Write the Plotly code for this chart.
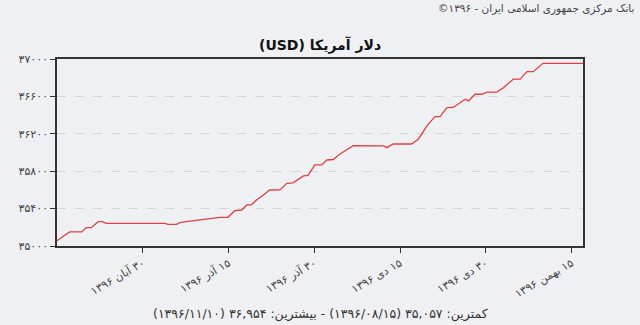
import plotly.graph_objects as go

# day offsets from 15 Aban 1396 and USD rate
days = [0, 2.2, 4.3, 5.1, 6, 7.2, 8, 8.6, 18.9, 19.4, 20.9, 21.5, 22.6, 23.8, 25.6,
        27.3, 28.5, 29.9, 31.1, 32.3, 33.2, 34, 34.9, 36.1, 37.2, 39, 40.2, 41.3,
        43.1, 43.9, 45.1, 46.3, 47.2, 48.3, 49.5, 51.8, 53.6, 57.1, 57.7, 58.8, 62,
        63.2, 64.7, 66.1, 67, 68.2, 69.3, 71.4, 72, 73.1, 74.3, 75.2, 76.9, 78.1,
        79.8, 81, 82.2, 83.3, 85, 92]
rates = [35057, 35150, 35150, 35196, 35196, 35260, 35260, 35242, 35242, 35232, 35232,
         35250, 35260, 35270, 35286, 35296, 35307, 35307, 35378, 35385, 35439, 35439,
         35492, 35546, 35599, 35600, 35671, 35675, 35749, 35755, 35867, 35867, 35920,
         35925, 35984, 36074, 36074, 36070, 36052, 36091, 36091, 36142, 36284, 36384,
         36384, 36480, 36482, 36570, 36552, 36623, 36623, 36645, 36645, 36694, 36784,
         36784, 36865, 36865, 36954, 36954]

x_tick_vals = [15, 30, 45, 60, 75, 90]
x_tick_text = ["۳۰ آبان ۱۳۹۶", "۱۵ آذر ۱۳۹۶", "۳۰ آذر ۱۳۹۶",
               "۱۵ دی ۱۳۹۶", "۳۰ دی ۱۳۹۶", "۱۵ بهمن ۱۳۹۶"]
y_tick_vals = [35000, 35400, 35800, 36200, 36600, 37000]
y_tick_text = ["۳۵۰۰۰", "۳۵۴۰۰", "۳۵۸۰۰", "۳۶۲۰۰", "۳۶۶۰۰", "۳۷۰۰۰"]

title = "دلار آمریکا (USD)"
credit = "بانک مرکزی جمهوری اسلامی ایران - ۱۳۹۶©"
footer = "کمترین: ۳۵,۰۵۷ (۱۳۹۶/۰۸/۱۵) - بیشترین: ۳۶,۹۵۴ (۱۳۹۶/۱۱/۱۰)"


def rtl(s):
    return "\u202b" + s + "\u202c"


BG = "#EEF0F4"
FONT = "Tahoma, DejaVu Sans, sans-serif"

fig = go.Figure()
fig.add_trace(go.Scatter(x=days, y=rates, mode="lines",
                         line=dict(color="#E2403E", width=1.3),
                         hoverinfo="skip", showlegend=False))

fig.update_layout(
    width=640, height=325,
    margin=dict(l=57, r=57, t=59, b=79),
    paper_bgcolor=BG, plot_bgcolor=BG,
    font=dict(family=FONT, size=11, color="#333"),
    showlegend=False,
)
fig.update_xaxes(range=[0, 92], tickvals=x_tick_vals,
                 ticktext=[rtl(t) for t in x_tick_text],
                 tickangle=-30, ticks="outside", ticklen=5, tickcolor="#333",
                 showgrid=False, zeroline=False,
                 showline=True, linecolor="#333", linewidth=1.5, mirror=True,
                 tickfont=dict(family=FONT, size=11, color="#444"))
fig.update_yaxes(range=[35000, 37000], tickvals=y_tick_vals, ticktext=y_tick_text,
                 ticks="outside", ticklen=5, tickcolor="#333",
                 showgrid=True, gridcolor="#D4D6DA", griddash="dash", gridwidth=1,
                 zeroline=False,
                 showline=True, linecolor="#333", linewidth=1.5, mirror=True,
                 tickfont=dict(family=FONT, size=11, color="#444"))

fig.add_annotation(text=rtl(credit), xref="paper", yref="paper", x=1.1, y=1.0,
                   yshift=51, xanchor="right", yanchor="middle", showarrow=False,
                   font=dict(family=FONT, size=10.5, color="#444"))
fig.add_annotation(text="<b>" + rtl(title) + "</b>", xref="paper", yref="paper",
                   x=0.5, y=1.0, yshift=14, xanchor="center", yanchor="middle",
                   showarrow=False, font=dict(family=FONT, size=14, color="#111"))
fig.add_annotation(text=rtl(footer), xref="paper", yref="paper", x=0.5, y=0,
                   yshift=-68, xanchor="center", yanchor="middle", showarrow=False,
                   font=dict(family=FONT, size=12.5, color="#333"))

fig.write_html("out.html")
